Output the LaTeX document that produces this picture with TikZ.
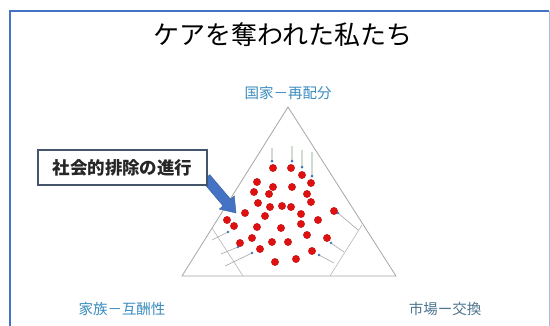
\documentclass[tikz,border=0pt]{standalone}
\usepackage{fontspec}
\newfontfamily\jp{Noto Sans CJK JP}
\definecolor{frameblue}{HTML}{4472C4}
\definecolor{frameright}{HTML}{A9BCE6}
\definecolor{labelblue}{HTML}{3A8CC0}
\definecolor{labelslate}{HTML}{4E7690}
\definecolor{trigray}{HTML}{A6A6A6}
\definecolor{dotred}{HTML}{E01010}
\definecolor{tipblue}{HTML}{3E78B8}
\definecolor{fadeline}{HTML}{CFDCCF}
\definecolor{boxedge}{HTML}{44546A}
\tikzset{
  reddot/.style={circle, fill=dotred, draw=dotred!80!black, line width=0.3pt, inner sep=0pt, minimum size=7.4pt},
  corner/.style={draw=trigray, line width=0.8pt},
  innerline/.style={draw=trigray!80, line width=0.6pt},
  pushline/.style={draw=gray!70, line width=0.6pt},
  topline/.style={draw=fadeline, line width=1.6pt},
  tipdot/.style={fill=tipblue},
  axislabel/.style={font=\jp\fontsize{14.5}{16}\selectfont, text=labelblue, inner sep=0pt},
  callout/.style={draw=boxedge, line width=1.2pt, fill=white, font=\jp\bfseries\fontsize{17.5}{20}\selectfont, text=black!85, minimum width=169pt, minimum height=35pt, inner sep=0pt}
}
\begin{document}
\begin{tikzpicture}[x=1pt,y=-1pt]
\useasboundingbox (0,0) rectangle (550,325);
\fill[white] (0,0) rectangle (550,325);
% frame
\draw[frameblue, line width=1.6pt] (10,326) -- (10,11) -- (549,11);
\draw[frameright, line width=1pt] (549,11) -- (549,326);
% title
\node (title) at (283,35) {\jp\fontsize{26}{28}\selectfont ケアを奪われた私たち};
% triangle corners
\coordinate (A) at (288,107);
\coordinate (L) at (182,276);
\coordinate (R) at (396,276);
\draw[corner] (A) -- (L) -- (R) -- cycle;
% inner corner lines
\coordinate (l1) at (243,276);
\coordinate (l2) at (212,228);
\coordinate (r1) at (330,276);
\coordinate (r2) at (362,225);
\draw[innerline] (l1) -- (l2);
\draw[innerline] (r1) -- (r2);
% labels
\node[axislabel] (top) at (288,93) {国家－再配分};
\node[axislabel] (fam) at (122,309) {家族－互酬性};
\node[axislabel, text=labelslate] (mkt) at (445,309) {市場ー交換};
% top faint arrows
\foreach \x/\ya/\yb in {272/148/161, 292/146/161, 302/150/167, 312/152/176}{
  \draw[topline] (\x,\ya) -- (\x,\yb);
  \fill[tipdot] (\x,\yb) circle (1.5pt);
}
% left corner arrows
\foreach \ax/\ay/\bx/\by in {212/240/228/232, 221/254/238/247, 225/266/252/253}{
  \draw[pushline] (\ax,\ay) -- (\bx,\by);
  \fill[tipdot] (\bx,\by) circle (1.3pt);
}
% right corner arrows
\foreach \ax/\ay/\bx/\by in {358/230/338/213, 344/252/331/243, 334/263/319/255}{
  \draw[pushline] (\ax,\ay) -- (\bx,\by);
  \fill[tipdot] (\bx,\by) circle (1.3pt);
}
% red dots
\foreach[count=\i] \x/\y in {273/168, 291/168, 302/175, 311/183, 257/182, 273/187, 292/187, 254/192, 269/194, 307/194,
  258/203, 270/207, 282/206, 291/207, 311/202, 245/213, 265/216, 301/214, 334/211, 227/220,
  234/226, 257/227, 281/228, 301/224, 318/220, 307/235, 252/238, 272/242, 288/242, 327/238,
  240/243, 260/249, 312/251, 275/262, 296/259}{
  \node[reddot] (d\i) at (\x,\y) {};
}
% callout arrow (block arrow)
\coordinate (tip) at (236,213);
\fill[frameblue, draw=frameblue!80!black, line width=0.4pt]
  (209.8,174.7) -- (230.6,199.2) -- (234.3,195.9) -- (tip) -- (219.3,209.1) -- (223.0,205.8) -- (202.2,181.3) -- cycle;
% callout box
\node[callout] (box) at (122.5,167.5) {社会的排除の進行};
\end{tikzpicture}
\end{document}
